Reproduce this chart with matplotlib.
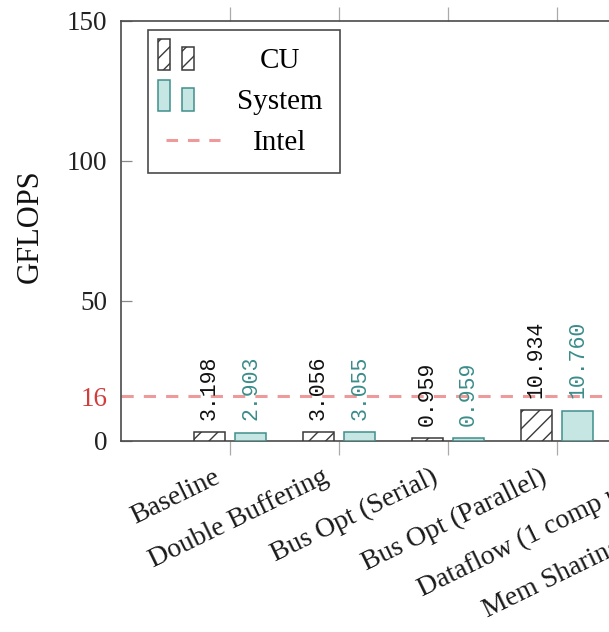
import matplotlib
matplotlib.use("Agg")
import matplotlib.pyplot as plt
from matplotlib.patches import Rectangle
from matplotlib.lines import Line2D
from matplotlib.legend_handler import HandlerBase
from matplotlib.transforms import ScaledTranslation
import numpy as np

# ---- data ----
categories = ["Baseline", "Double Buffering", "Bus Opt (Serial)", "Bus Opt (Parallel)",
              "Dataflow (1 comp unit)", "Mem Sharing (2 comp unit)"]
cu_values = [3.198, 3.056, 0.959, 10.934]
system_values = [2.903, 3.055, 0.959, 10.760]
intel_value = 16
yticks = [0, 16, 50, 100, 150]
series_labels = ["CU", "System", "Intel"]

# ---- style ----
SERIF = ["Liberation Serif", "DejaVu Serif"]
MONO = ["Liberation Mono", "DejaVu Sans Mono"]
plt.rcParams["font.family"] = SERIF
plt.rcParams["hatch.linewidth"] = 1.0
plt.rcParams["hatch.color"] = "#333333"

cu_edge = "#3a3a3a"
sys_face = "#c6e6e4"
sys_edge = "#3f8f8c"
sys_text = "#3a8c8a"
intel_col = "#ee9a9a"
spine_col = "#4a4a4a"

W, H = 609, 632
fig = plt.figure(figsize=(W / 100, H / 100), dpi=100)
n = len(categories)
px_per_unit = 109
ax_left, ax_top, ax_bottom = 121, 21, 441
ax_w = (n + 1) * px_per_unit
ax = fig.add_axes([ax_left / W, (H - ax_bottom) / H, ax_w / W, (ax_bottom - ax_top) / H])

x = np.arange(len(cu_values))
bw = 0.285
off = 0.19
ax.bar(x - off, cu_values, bw, facecolor="white", edgecolor=cu_edge, hatch="//", linewidth=1.1, zorder=3)
ax.bar(x + off, system_values, bw, facecolor=sys_face, edgecolor=sys_edge, linewidth=1.1, zorder=3)
ax.axhline(intel_value, color=intel_col, lw=2.2, dashes=(4, 3.3), zorder=2)

for xi, v in zip(x, cu_values):
    ax.annotate(f"{v:.3f}", (xi - off, v), xytext=(0, 9), textcoords="offset points",
                rotation=90, ha="center", va="bottom", fontsize=15.5, family=MONO, color="#111111")
for xi, v in zip(x, system_values):
    ax.annotate(f"{v:.3f}", (xi + off, v), xytext=(0, 9), textcoords="offset points",
                rotation=90, ha="center", va="bottom", fontsize=15.5, family=MONO, color=sys_text)

ax.set_xlim(-1, n)
ax.set_ylim(0, 150)
ax.set_yticks(yticks)
ax.set_yticklabels([str(t) for t in yticks], fontsize=19.5, color="#222222")
for lab, t in zip(ax.get_yticklabels(), yticks):
    if t == intel_value:
        lab.set_color("#d23c3c")
ax.tick_params(axis="y", direction="in", length=8, width=0.9, color="#888888", pad=10)
for tl, t in zip(ax.yaxis.get_major_ticks(), yticks):
    if t == intel_value:
        tl.tick1line.set_color("#e07070")

ax.set_xticks(np.arange(n))
ax.tick_params(axis="x", which="both", top=True, bottom=True, direction="out",
               length=10, width=0.9, color="#aaaaaa", pad=7)
ax.set_xticklabels(categories, fontsize=20, color="#1a1a1a")
shift = ScaledTranslation(-17 / 100, 0, fig.dpi_scale_trans)
for lab in ax.get_xticklabels():
    lab.set_rotation(26)
    lab.set_ha("right")
    lab.set_rotation_mode("anchor")
    lab.set_transform(lab.get_transform() + shift)

for s in ax.spines.values():
    s.set_color(spine_col)
    s.set_linewidth(1.2)

ax.set_ylabel("GFLOPS", fontsize=22, color="#111111", labelpad=16)
ax.yaxis.label.set_y(0.512)


class TwoBarHandler(HandlerBase):
    def __init__(self, face, edge, hatch=None):
        super().__init__()
        self.face, self.edge, self.hatch = face, edge, hatch

    def create_artists(self, legend, orig_handle, xdescent, ydescent, width, height, fontsize, trans):
        w = 8.6
        x0 = -5.4
        r1 = Rectangle((x0, -1.5), w, 22.3, facecolor=self.face, edgecolor=self.edge,
                       hatch=self.hatch, linewidth=1.1, transform=trans)
        r2 = Rectangle((x0 + 17.3, -1.5), w, 16.6, facecolor=self.face, edgecolor=self.edge,
                       hatch=self.hatch, linewidth=1.1, transform=trans)
        return [r1, r2]


h_cu = Rectangle((0, 0), 1, 1)
h_sys = Rectangle((0, 0), 1, 1)
h_int = Line2D([], [], color=intel_col, lw=2.2, dashes=(3.8, 3.2))
leg = ax.legend([h_cu, h_sys, h_int], series_labels,
                handler_map={h_cu: TwoBarHandler("white", cu_edge, "//"),
                             h_sys: TwoBarHandler(sys_face, sys_edge, None)},
                loc="upper left", bbox_to_anchor=(148 / W, 1 - 30 / H),
                bbox_transform=fig.transFigure, borderaxespad=0, fontsize=21,
                frameon=True, fancybox=False, edgecolor=spine_col, framealpha=1,
                handlelength=1.87, handletextpad=0.58, labelspacing=0.5, borderpad=0.6)
leg.get_frame().set_linewidth(1.2)

fig.canvas.draw()
r = fig.canvas.get_renderer()
texts = leg.get_texts()
widths = [t.get_window_extent(r).width for t in texts]
mw = max(widths)
for t, w in zip(texts, widths):
    t.set_x((mw - w) / 2)

fig.savefig("out.png", dpi=100)
